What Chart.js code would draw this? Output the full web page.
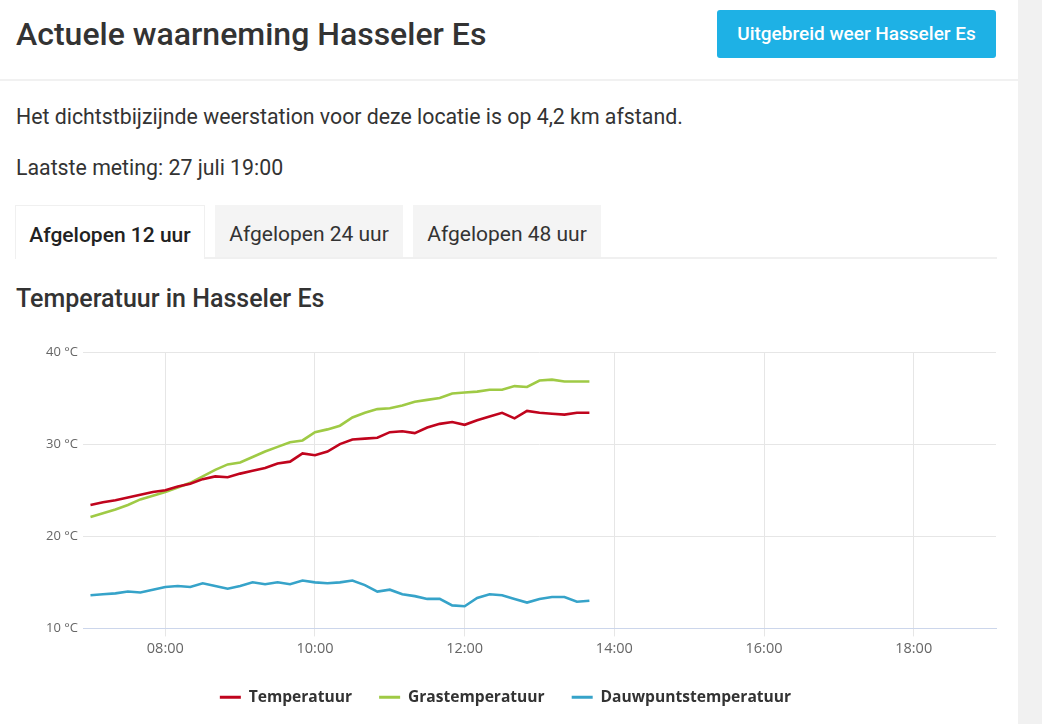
<!DOCTYPE html>
<html lang="nl">
<head>
<meta charset="utf-8">
<title>Actuele waarneming Hasseler Es</title>
<script src="https://cdn.jsdelivr.net/npm/chart.js@4.4.1/dist/chart.umd.min.js"></script>
<style>
  html, body { margin: 0; padding: 0; background: #fff; }
  body { width: 1042px; height: 724px; position: relative; overflow: hidden; font-family: Roboto, "Noto Sans", sans-serif; color: #333; }
  .side { position: absolute; left: 1018px; top: 0; width: 24px; height: 724px; background: #f1f1f1; }
  .abs { position: absolute; white-space: nowrap; }
  h1 { margin: 0; font-size: 32px; font-weight: 500; left: 16px; top: 15px; line-height: 38px; color: #333; }
  .btn { left: 717px; top: 10px; width: 279px; height: 48px; background: #1eb1e5; color: #fff; border-radius: 3px;
         font-size: 19px; font-weight: 500; text-align: center; line-height: 48px; }
  .divider { left: 0; top: 79px; width: 1018px; height: 2px; background: #f1f1f1; }
  .txt { left: 16px; font-size: 21.3px; line-height: 24px; color: #333; }
  .tab { top: 205px; height: 53px; line-height: 58px; font-size: 21px; text-align: center; background: #f4f4f4; color: #333; }
  .tab.active { background: #fff; border: 1px solid #f0f0f0; border-bottom: none; color: #222; font-weight: 500; }
  .tabline { left: 204px; top: 257px; width: 793px; height: 2px; background: #f0f0f0; }
  h2 { margin: 0; left: 16px; top: 285px; font-size: 25px; font-weight: 500; line-height: 28px; color: #333; }
  #chartBox { position: absolute; left: 15px; top: 330px; width: 982px; height: 390px; }
</style>
</head>
<body>
<div class="side"></div>
<h1 class="abs">Actuele waarneming Hasseler Es</h1>
<div class="abs btn">Uitgebreid weer Hasseler Es</div>
<div class="abs divider"></div>
<div class="abs txt" style="top:105px">Het dichtstbijzijnde weerstation voor deze locatie is op 4,2 km afstand.</div>
<div class="abs txt" style="top:156px">Laatste meting: 27 juli 19:00</div>
<div class="abs tab active" style="left:15px;width:188px">Afgelopen 12 uur</div>
<div class="abs tab" style="left:215px;width:188px">Afgelopen 24 uur</div>
<div class="abs tab" style="left:413px;width:188px">Afgelopen 48 uur</div>
<div class="abs tabline"></div>
<h2 class="abs">Temperatuur in Hasseler Es</h2>
<div id="chartBox"><canvas id="tempChart"></canvas></div>

<script>
// metingen, elke 10 minuten
const times = [
  "07:00","07:10","07:20","07:30","07:40","07:50",
  "08:00","08:10","08:20","08:30","08:40","08:50",
  "09:00","09:10","09:20","09:30","09:40","09:50",
  "10:00","10:10","10:20","10:30","10:40","10:50",
  "11:00","11:10","11:20","11:30","11:40","11:50",
  "12:00","12:10","12:20","12:30","12:40","12:50",
  "13:00","13:10","13:20","13:30","13:40"
];

const temperatuur = [
  23.4, 23.7, 23.9, 24.2, 24.5, 24.8, 25.0, 25.4, 25.7, 26.2,
  26.5, 26.4, 26.8, 27.1, 27.4, 27.9, 28.1, 29.0, 28.8, 29.2,
  30.0, 30.5, 30.6, 30.7, 31.3, 31.4, 31.2, 31.8, 32.2, 32.4,
  32.1, 32.6, 33.0, 33.4, 32.8, 33.6, 33.4, 33.3, 33.2, 33.4,
  33.4
];

const grastemperatuur = [
  22.1, 22.5, 22.9, 23.4, 24.0, 24.4, 24.8, 25.3, 25.8, 26.5,
  27.2, 27.8, 28.0, 28.6, 29.2, 29.7, 30.2, 30.4, 31.3, 31.6,
  32.0, 32.9, 33.4, 33.8, 33.9, 34.2, 34.6, 34.8, 35.0, 35.5,
  35.6, 35.7, 35.9, 35.9, 36.3, 36.2, 36.9, 37.0, 36.8, 36.8,
  36.8
];

const dauwpunt = [
  13.6, 13.7, 13.8, 14.0, 13.9, 14.2, 14.5, 14.6, 14.5, 14.9,
  14.6, 14.3, 14.6, 15.0, 14.8, 15.0, 14.8, 15.2, 15.0, 14.9,
  15.0, 15.2, 14.7, 14.0, 14.2, 13.7, 13.5, 13.2, 13.2, 12.5,
  12.4, 13.3, 13.7, 13.6, 13.2, 12.8, 13.2, 13.4, 13.4, 12.9,
  13.0
];

const xTickLabels = ["08:00", "10:00", "12:00", "14:00", "16:00", "18:00"];
const yTickValues = [10, 20, 30, 40];

// "hh:mm" -> uren als getal
function toHours(t) {
  const parts = t.split(":");
  return Number(parts[0]) + Number(parts[1]) / 60;
}

function series(values) {
  return values.map((v, i) => ({ x: toHours(times[i]), y: v }));
}

function pad2(n) {
  return (n < 10 ? "0" : "") + n;
}

function lineSet(label, values, color) {
  return {
    label: label,
    data: series(values),
    borderColor: color,
    backgroundColor: color,
    borderWidth: 2.6,
    pointBorderColor: color,
    pointBackgroundColor: color,
    pointBorderWidth: 3
  };
}

const xTickHours = xTickLabels.map(toHours);
const gridColor = "#e6e6e6";

new Chart(document.getElementById("tempChart"), {
  type: "line",
  data: {
    datasets: [
      lineSet("Temperatuur", temperatuur, "#c0041d"),
      lineSet("Grastemperatuur", grastemperatuur, "#9fca45"),
      lineSet("Dauwpuntstemperatuur", dauwpunt, "#36a3c9")
    ]
  },
  options: {
    responsive: true,
    maintainAspectRatio: false,
    animation: false,
    layout: { padding: { top: 22, right: 1, bottom: 5, left: 0 } },
    elements: {
      line: { tension: 0 },
      point: { radius: 0, hoverRadius: 0 }
    },
    scales: {
      x: {
        type: "linear",
        min: 6.9,
        max: 19.1,
        grid: { color: gridColor, tickLength: 8 },
        border: { color: "#ccd6eb" },
        afterBuildTicks: (axis) => { axis.ticks = xTickHours.map((v) => ({ value: v })); },
        afterFit: (axis) => { axis.height = 34; },
        ticks: {
          autoSkip: false,
          maxRotation: 0,
          padding: 4,
          color: "#666",
          font: { family: "'Open Sans'", size: 14.5 },
          callback: (value) => pad2(Math.floor(value)) + ":" + pad2(Math.round((value % 1) * 60))
        }
      },
      y: {
        min: 10,
        max: 40,
        grid: { color: gridColor, drawTicks: false },
        border: { display: false },
        afterBuildTicks: (axis) => { axis.ticks = yTickValues.map((v) => ({ value: v })); },
        afterFit: (axis) => { axis.width = 68; },
        ticks: {
          padding: 5,
          color: "#666",
          font: { family: "'Open Sans'", size: 13 },
          callback: (value) => value + " °C"
        }
      }
    },
    plugins: {
      tooltip: { enabled: false },
      legend: {
        position: "bottom",
        labels: {
          usePointStyle: true,
          pointStyle: "line",
          pointStyleWidth: 21,
          boxHeight: 15,
          padding: 27,
          color: "#333",
          font: { family: "'Open Sans'", size: 15.6, weight: "bold" }
        }
      }
    }
  }
});
</script>
</body>
</html>
